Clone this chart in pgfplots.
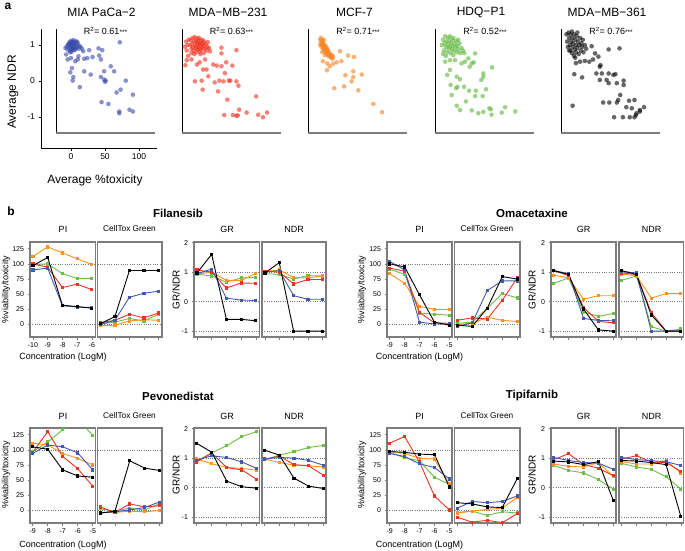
\documentclass[border=0pt]{standalone}
\usepackage{pgfplots}
\pgfplotsset{compat=1.18}
\usepackage{pgfplotstable}
\usepackage{fontspec}
\setmainfont{Liberation Sans}

\definecolor{cblue}{RGB}{66,88,178}
\definecolor{cred}{RGB}{235,52,36}
\definecolor{corange}{RGB}{247,148,30}
\definecolor{cgreen}{RGB}{108,190,69}
\definecolor{sblue}{RGB}{58,74,170}
\definecolor{sred}{RGB}{238,48,30}
\definecolor{sorange}{RGB}{245,128,32}
\definecolor{sgreen}{RGB}{96,182,60}
\definecolor{boxc}{RGB}{125,125,125}
\definecolor{refc}{RGB}{120,120,120}

% ---------------- panel b data ----------------
\pgfplotstableread{
x blk blu red grn org
-10 97 90 100 99 112
-9 110.5 93 94.5 100 128
-8 32 31 61 84 118
-7 29.5 29 66.5 76 108.5
-6 27 28 57.5 76 99
}\tFilPI
\pgfplotstableread{
x blk blu red grn org
-10 1.5 0 3 1 -2
-9 13 7 7 4 -1
-8 89 45 17 10 6
-7 89 51.5 11 6 8
-6 89 55 19 17 7
}\tFilCT
\pgfplotstableread{
x blk blu red grn org
-10 0.97 0.95 1.07 0.93 0.93
-9 1.6 1.1 1.0 0.87 1.0
-8 -0.6 0.12 0.46 0.66 0.72
-7 -0.6 0.05 0.63 0.8 0.72
-6 -0.65 0.04 0.62 0.82 0.95
}\tFilGR
\pgfplotstableread{
x blk blu red grn org
-10 0.97 1.0 1.03 0.95 1.02
-9 1.32 1.05 1.0 0.92 1.07
-8 -1.0 0.2 0.6 0.77 0.82
-7 -1.0 0.08 0.75 0.88 0.8
-6 -1.0 0.08 0.75 0.87 0.88
}\tFilND
\pgfplotstableread{
x blk blu red grn org
-9 100 104 93 91 84
-8 95 90 88 83 68
-7 49 4 20 19 30
-6 4 1 3 17 25
-5 -1 1 2 15.5 25
}\tOmaPI
\pgfplotstableread{
x blk blu red grn org
-9 -1 -3 7 2 0
-8 -3 3 11 4 2
-7 27 56 9 27 12
-6 79 72 40 51 7
-5 75 72 77 44 5
}\tOmaCT
\pgfplotstableread{
x blk blu red grn org
-9 1.05 1.05 1.05 0.62 0.9
-8 0.92 0.95 0.88 0.8 0.8
-7 -0.25 -0.57 -0.2 -0.35 0.08
-6 -0.96 -0.64 -0.67 -0.5 0.2
-5 -1.0 -0.65 -0.72 -0.4 0.2
}\tOmaGR
\pgfplotstableread{
x blk blu red grn org
-9 1.05 1.02 0.97 0.72 0.93
-8 0.92 0.97 0.92 0.87 0.88
-7 -0.45 -1.0 -0.37 -0.85 0.12
-6 -1.0 -1.0 -1.0 -1.0 0.27
-5 -1.0 -1.0 -1.0 -0.93 0.27
}\tOmaND
\pgfplotstableread{
x blk blu red grn org
-9 105 94 96 97 111
-8 101 108 130 113 108
-7 67 105 89 133 94
-6 57 95 69 150 86
-5 55 67 40 124 75
}\tPevPI
\pgfplotstableread{
x blk blu red grn org
-9 -4 -4 6 3 -3
-8 -1 -2 -3 -1 -3
-7 82 1 11 4 -1
-6 70 5 6 1 -2
-5 66 14 8 11 0
}\tPevCT
\pgfplotstableread{
x blk blu red grn org
-9 1.5 0.93 0.87 0.9 0.97
-8 1.2 1.08 1.17 1.18 0.81
-7 0.22 1.02 0.68 1.42 0.68
-6 0.03 0.87 0.6 1.73 0.65
-5 -0.02 0.65 0.28 1.9 0.59
}\tPevGR
\pgfplotstableread{
x blk blu red grn org
-9 1.27 0.97 0.95 0.95 0.97
-8 1.1 1.02 1.07 1.1 0.85
-7 0.32 1.0 0.78 1.22 0.76
-6 0.05 0.92 0.74 1.36 0.74
-5 -0.03 0.76 0.42 1.43 0.7
}\tPevND
\pgfplotstableread{
x blk blu red grn org
-9 97 94 111 96 98
-8 96 89 122 87 94
-7 93 77 80 82 86
-6 92 71 24 55 85
-5 39 52 1 43 44
}\tTipPI
\pgfplotstableread{
x blk blu red grn org
-9 13 4 -11 -3 -4
-8 11 15 -19 -1 -1
-7 6 13 -16 -8 2
-6 5 15 -20 -2 4
-5 53 24 -5 -4 22
}\tTipCT
\pgfplotstableread{
x blk blu red grn org
-9 0.9 1.02 0.95 0.75 0.8
-8 0.87 0.92 1.15 0.58 0.72
-7 0.78 0.85 0.78 0.5 0.7
-6 0.88 0.83 0.66 0.27 0.85
-5 -0.44 0.62 0.4 -0.05 0.37
}\tTipGR
\pgfplotstableread{
x blk blu red grn org
-9 0.92 1.02 0.97 0.82 0.88
-8 0.9 0.95 1.08 0.7 0.8
-7 0.85 0.91 0.87 0.62 0.8
-6 0.78 0.88 0.85 0.37 0.92
-5 -0.98 0.75 0.55 -0.05 0.5
}\tTipND

\pgfplotsset{
  sc/.style={scale only axis, anchor=south west, width=99pt, height=104pt,
    xmin=-22, xmax=123.5, ymin=-1.45, ymax=1.45, hide axis, clip=false},
  scm/.style={only marks, mark=*, mark size=2.3pt, color=#1,
    draw opacity=0, fill opacity=0.6,
    mark options={draw=none, draw opacity=0, fill=#1, fill opacity=0.6}},
  bp/.style={scale only axis, anchor=south west, height=95pt,
    axis line style={draw=boxc, line width=1.1pt},
    tick align=outside, tick pos=left, major tick length=2.5pt,
    tick style={draw=boxc, line width=0.6pt},
    ticklabel style={font=\fontsize{7}{8}\selectfont, text=black},
    /pgf/number format/assume math mode=true,
    major grid style={draw=refc, line width=0.6pt, dash pattern=on 0.7pt off 1.6pt}},
  pip/.style={bp, ymin=-20.5, ymax=136, ytick={0,25,50,75,100,125},
    extra y ticks={0,100}, extra y tick labels={},
    extra y tick style={grid=major, major tick length=0pt}},
  ctp/.style={pip, ytick=\empty, xticklabels={}},
  grp/.style={bp, ymin=-1.2, ymax=2.02, ytick={-1,0,1,2},
    extra y ticks={-1,0,1}, extra y tick labels={},
    extra y tick style={grid=major, major tick length=0pt}, xticklabels={}},
  ndrp/.style={grp, ytick=\empty},
  fx/.style={xmin=-10.2, xmax=-5.75, xtick={-10,-9,-8,-7,-6}},
  ox/.style={xmin=-9.18, xmax=-4.82, xtick={-9,-8,-7,-6,-5}},
  ln/.style={line width=0.9pt, mark=square*, mark size=1.1pt, mark options={solid}},
}

\newcommand\fives[1]{%
  \addplot[ln, cgreen] table[x=x, y=grn] {#1};
  \addplot[ln, corange] table[x=x, y=org] {#1};
  \addplot[ln, cred] table[x=x, y=red] {#1};
  \addplot[ln, cblue] table[x=x, y=blu] {#1};
  \addplot[ln, black] table[x=x, y=blk] {#1};
}
\newcommand\scl{\draw[black, line width=0.8pt] (rel axis cs:0,0) -- (rel axis cs:0,1);
  \draw[boxc, line width=1.5pt] (rel axis cs:0,0) -- (rel axis cs:1,0);}

\begin{document}
\begin{tikzpicture}
\path[use as bounding box] (0pt,0pt) rectangle (685pt,-550pt);

% ================= panel a =================
\node[font=\bfseries\fontsize{12}{14}\selectfont] at (8pt,-6pt) {a};

\begin{axis}[scale only axis, anchor=south west, at={(41pt,-148pt)},
  width=116pt, height=119pt, xmin=-44.1, xmax=126.5, ymin=-1.86, ymax=1.44,
  axis x line=bottom, axis y line=left, axis line style={-, black, line width=0.8pt},
  xtick={0,50,100}, ytick={-1,0,1}, tick align=outside, major tick length=2.5pt,
  tick style={black, line width=0.6pt},
  ticklabel style={font=\fontsize{8.5}{10}\selectfont},
  /pgf/number format/assume math mode=true]
\end{axis}

\begin{axis}[sc, at={(56pt,-133pt)}]
\addplot[scm=sblue] coordinates {
(-8,0.92)(-6,0.97)(-5,0.88)(-4,1.02)(-3,0.95)(-2,1.08)(-2,0.85)(-1,1.0)(0,1.12)(0,0.92)
(1,1.05)(1,0.82)(2,0.98)(2,1.1)(3,0.9)(3,1.02)(4,1.14)(4,0.95)(5,1.06)(5,0.86)
(6,1.0)(7,1.1)(7,0.92)(8,1.02)(9,0.95)(10,1.05)(11,0.9)(12,0.98)(-1,0.8)(1,0.95)
(3,1.08)(6,0.88)(-3,1.05)(0,1.0)(2,0.88)(9,1.1)(14,0.95)(16,0.9)
(71.7,1.08)(26.8,0.86)(18,0.83)(40.5,0.91)(46,0.86)(-7,0.74)(-5,0.6)(0,0.64)(11,0.69)(6.3,0.55)
(10,0.6)(19.5,0.62)(24,0.64)(31.7,0.67)(41.5,0.71)(44,0.6)(58.5,0.41)(48.8,0.27)(63.4,0.27)(19.5,0.27)
(29,0.18)(-1,0.24)(3.4,0.11)(2.4,0.01)(44,0.11)(48.8,0.04)(51,0.01)(50,-0.02)(13,-0.17)(80.5,0.01)
(73,-0.24)(67,-0.32)(91,-0.38)(45,-0.59)(55,-0.64)(71,-0.85)(71,-0.9)(86,-0.8)(91,-0.85)(1.5,0.36)};
\scl
\end{axis}

\begin{axis}[sc, at={(182pt,-133pt)}]
\addplot[scm=sred] coordinates {
(-10,1.0)(-9,1.15)(-8,0.9)(-7,1.05)(-6,1.2)(-6,0.95)(-5,0.85)(-4,1.1)(-3,1.0)(-3,1.22)
(-2,0.92)(-1,1.12)(-1,0.8)(0,1.05)(0,0.95)(1,1.18)(1,0.88)(2,1.0)(2,1.1)(3,0.9)
(3,1.2)(4,1.05)(4,0.82)(5,0.97)(6,1.12)(6,0.88)(7,1.02)(8,0.92)(8,1.15)(9,1.05)
(10,0.98)(11,1.1)(12,0.9)(13,1.02)(14,0.85)(15,0.95)(16,1.08)(18,0.92)(-8,0.78)(-4,0.75)
(5,0.75)(10,0.78)(-18,0.95)(-16,1.1)(-15,0.85)(-14,1.0)(-13,0.7)(-12,1.15)(-17,0.44)(-15,0.58)
(36,0.93)(36,0.77)(58,0.86)(19,0.83)(12,0.6)(0,0.46)(4,0.52)(-8,0.6)(24,0.46)(29,0.43)
(36,0.41)(43,0.52)(52,0.43)(41,0.22)(9,0.32)(14,0.32)(16.7,0.13)(-3,-0.01)(6.9,0.01)(26,-0.04)
(33,0.01)(39,-0.01)(47,0.01)(49,0.01)(58,-0.01)(61,-0.13)(8.3,-0.24)(31,-0.29)(44.6,-0.52)(87,-0.43)
(62,-0.8)(73,-0.88)(40,-0.95)(53,-0.95)(58,-0.97)(60,-0.96)(90,-0.94)(103,-0.88)(97,-1.01)};
\scl
\end{axis}

\begin{axis}[sc, at={(308pt,-133pt)}]
\addplot[scm=sorange] coordinates {
(-4,1.15)(-3,1.2)(-3,1.05)(-2,0.95)(-2,1.1)(-1,1.0)(0,1.12)(0,0.88)(1,0.95)(1,1.05)
(2,0.85)(2,1.0)(3,0.92)(4,0.8)(4,0.98)(5,0.88)(6,0.75)(6,0.92)(7,0.82)(8,0.7)
(9,0.78)(10,0.68)(11,0.74)(12,0.65)(13,0.72)(14,0.62)(15,0.68)(-1,0.8)(3,0.72)(8,0.85)
(-4,1.0)(1,1.15)
(25,0.83)(37,0.71)(45.6,0.67)(27,0.55)(20,0.52)(15,0.48)(0,0.55)(6.4,0.49)(10,0.41)(6,0.3)
(44.6,0.27)(57,0.18)(33,0.16)(44.6,0.11)(42,-0.01)(16.7,-0.2)(31,-0.15)(52,-0.26)(74,-0.64)(87,-0.87)};
\scl
\end{axis}

\begin{axis}[sc, at={(435pt,-133pt)}]
\addplot[scm=sgreen] coordinates {
(-12,1.0)(-10,1.15)(-9,0.85)(-8,1.05)(-7,1.25)(-6,0.95)(-5,1.1)(-4,0.8)(-3,1.2)(-3,1.0)
(-2,0.9)(-1,1.1)(0,1.25)(0,0.95)(1,0.78)(2,1.05)(3,1.15)(3,0.88)(4,0.98)(5,1.2)
(6,0.85)(7,1.05)(8,0.95)(9,1.12)(10,0.8)(11,0.98)(12,0.88)(14,1.05)(15,0.78)(17,0.92)
(19,0.85)(21,0.78)(-10,0.75)(-6,0.7)(5,0.72)(12,1.15)
(37,0.77)(27,0.63)(32,0.49)(35,0.52)(29,0.4)(22,0.54)(17,0.49)(7.4,0.58)(0,0.58)(-7,0.54)
(0,0.31)(-4,0.17)(62,0.38)(49,0.21)(46,0.03)(49,0.12)(10,0.12)(14.7,0.05)(1,-0.11)(11,-0.16)
(9,-0.2)(2.5,-0.39)(20.6,-0.16)(28,-0.27)(38,-0.27)(52.9,-0.23)(37,-0.42)(48,-0.42)(23.5,-0.57)(10,-0.69)
(14.7,-0.81)(32,-0.82)(41.7,-0.9)(49,-0.86)(58,-0.76)(60,-0.79)(61,-0.94)(76,-0.88)(81,-0.73)(96,-0.85)};
\scl
\end{axis}

\begin{axis}[sc, at={(561pt,-133pt)}]
\addplot[scm=black] coordinates {
(-14,1.3)(-13,1.1)(-12,0.95)(-11,1.35)(-10,1.2)(-9,1.0)(-8,0.85)(-8,1.3)(-7,1.1)(-6,0.78)
(-5,1.2)(-5,0.95)(-4,1.05)(-3,1.3)(-3,0.7)(-2,0.88)(-1,1.15)(0,1.0)(0,0.8)(1,1.25)
(2,0.92)(3,1.1)(4,0.75)(5,1.0)(6,1.2)(7,0.85)(8,1.05)(9,0.95)(10,1.15)(11,0.8)
(-10,0.85)(-6,1.38)(2,1.35)(-1,0.65)(13,1.0)(15,0.9)
(23,0.97)(28,0.77)(48,0.88)(64,0.91)(33,0.68)(25,0.6)(19.6,0.54)(13,0.56)(6,0.54)(0,0.5)
(36,0.44)(35,0.4)(30,0.21)(38,0.21)(48,0.21)(55,0.17)(58,0.19)(45,0.03)(35,0.03)(60,-0.06)
(70,0.01)(70,-0.11)(-2.5,0.19)(9,0.1)(48,-0.06)(65,-0.39)(62,-0.53)(60,-0.6)(40,-0.6)(49,-0.6)
(78,-0.55)(86,-0.53)(-5,-0.69)(74,-0.73)(82,-0.76)(94,-0.81)(100,-0.73)(89,-0.9)(86,-1.01)(56,-1.01)
(69,-1.01)(79,-1.01)(94,-0.85)(88,-0.95)};
\scl
\end{axis}

\begin{scope}[every node/.style={font=\fontsize{12}{14}\selectfont}]
\node at (101.5pt,-12pt) {MIA PaCa−2};
\node at (228pt,-12pt) {MDA−MB−231};
\node at (354.5pt,-12pt) {MCF-7};
\node at (481pt,-12pt) {HDQ−P1};
\node at (607pt,-12pt) {MDA−MB−361};
\node[rotate=90] at (13pt,-92pt) {Average NDR};
\node at (95pt,-180pt) {Average \%toxicity};
\end{scope}
\begin{scope}[every node/.style={font=\fontsize{9}{10}\selectfont}]
\node at (105.5pt,-31pt) {R\textsuperscript{2}= 0.61{\fontsize{6.5}{7}\selectfont\raisebox{0.5pt}{***}}};
\node at (231.5pt,-31pt) {R\textsuperscript{2}= 0.63{\fontsize{6.5}{7}\selectfont\raisebox{0.5pt}{***}}};
\node at (358pt,-31pt) {R\textsuperscript{2}= 0.71{\fontsize{6.5}{7}\selectfont\raisebox{0.5pt}{***}}};
\node at (485pt,-31pt) {R\textsuperscript{2}= 0.52{\fontsize{6.5}{7}\selectfont\raisebox{0.5pt}{***}}};
\node at (611pt,-31pt) {R\textsuperscript{2}= 0.76{\fontsize{6.5}{7}\selectfont\raisebox{0.5pt}{***}}};
\end{scope}

% ================= panel b =================
\node[font=\bfseries\fontsize{12}{14}\selectfont] at (11pt,-211pt) {b};

% Filanesib
\begin{axis}[pip, fx, at={(30pt,-337pt)}, width=65.5pt] \fives{\tFilPI} \end{axis}
\begin{axis}[ctp, fx, at={(97.5pt,-337pt)}, width=64.5pt] \fives{\tFilCT} \end{axis}
\begin{axis}[grp, fx, at={(194pt,-337pt)}, width=65.5pt] \fives{\tFilGR} \end{axis}
\begin{axis}[ndrp, fx, at={(262pt,-337pt)}, width=64pt] \fives{\tFilND} \end{axis}
% Omacetaxine
\begin{axis}[pip, ox, at={(387pt,-337pt)}, width=65pt] \fives{\tOmaPI} \end{axis}
\begin{axis}[ctp, ox, at={(454.5pt,-337pt)}, width=65.5pt] \fives{\tOmaCT} \end{axis}
\begin{axis}[grp, ox, at={(551pt,-337pt)}, width=65pt] \fives{\tOmaGR} \end{axis}
\begin{axis}[ndrp, ox, at={(619pt,-337pt)}, width=64.5pt] \fives{\tOmaND} \end{axis}
% Pevonedistat
\begin{axis}[pip, ox, at={(30pt,-523pt)}, width=65.5pt] \fives{\tPevPI} \end{axis}
\begin{axis}[ctp, ox, at={(97.5pt,-523pt)}, width=64.5pt] \fives{\tPevCT} \end{axis}
\begin{axis}[grp, ox, at={(194pt,-523pt)}, width=65.5pt] \fives{\tPevGR} \end{axis}
\begin{axis}[ndrp, ox, at={(262pt,-523pt)}, width=64pt] \fives{\tPevND} \end{axis}
% Tipifarnib
\begin{axis}[pip, ox, at={(387pt,-523pt)}, width=65pt] \fives{\tTipPI} \end{axis}
\begin{axis}[ctp, ox, at={(454.5pt,-523pt)}, width=65.5pt] \fives{\tTipCT} \end{axis}
\begin{axis}[grp, ox, at={(551pt,-523pt)}, width=65pt] \fives{\tTipGR} \end{axis}
\begin{axis}[ndrp, ox, at={(619pt,-523pt)}, width=64.5pt] \fives{\tTipND} \end{axis}

\begin{scope}[every node/.style={font=\bfseries\fontsize{11.5}{13}\selectfont}]
\node at (178pt,-213pt) {Filanesib};
\node at (532pt,-213pt) {Omacetaxine};
\node at (178pt,-396pt) {Pevonedistat};
\node at (532pt,-396pt) {Tipifarnib};
\end{scope}

\begin{scope}[every node/.style={font=\fontsize{9}{10}\selectfont}]
\node at (63pt,-229pt) {PI};
\node at (227pt,-229pt) {GR};
\node at (294pt,-229pt) {NDR};
\node at (419.5pt,-229pt) {PI};
\node at (583.5pt,-229pt) {GR};
\node at (651.5pt,-229pt) {NDR};
\node at (63pt,-416pt) {PI};
\node at (227pt,-416pt) {GR};
\node at (294pt,-416pt) {NDR};
\node at (419.5pt,-416pt) {PI};
\node at (583.5pt,-416pt) {GR};
\node at (651.5pt,-416pt) {NDR};
\node at (63pt,-357pt) {Concentration (LogM)};
\node at (419.5pt,-357pt) {Concentration (LogM)};
\node at (63pt,-545pt) {Concentration (LogM)};
\node at (419.5pt,-545pt) {Concentration (LogM)};
\node[rotate=90] at (6pt,-289.5pt) {\%viability/toxicity};
\node[rotate=90] at (362pt,-289.5pt) {\%viability/toxicity};
\node[rotate=90] at (6pt,-475pt) {\%viability/toxicity};
\node[rotate=90] at (362pt,-475pt) {\%viability/toxicity};
\end{scope}
\begin{scope}[every node/.style={font=\fontsize{8.3}{10}\selectfont}]
\node at (129.5pt,-229pt) {CellTox Green};
\node at (487pt,-229pt) {CellTox Green};
\node at (129.5pt,-416pt) {CellTox Green};
\node at (487pt,-416pt) {CellTox Green};
\end{scope}
\begin{scope}[every node/.style={font=\fontsize{10}{11}\selectfont, rotate=90}]
\node at (176pt,-289.5pt) {GR/NDR};
\node at (532pt,-289.5pt) {GR/NDR};
\node at (176pt,-475pt) {GR/NDR};
\node at (532pt,-475pt) {GR/NDR};
\end{scope}
\end{tikzpicture}
\end{document}
